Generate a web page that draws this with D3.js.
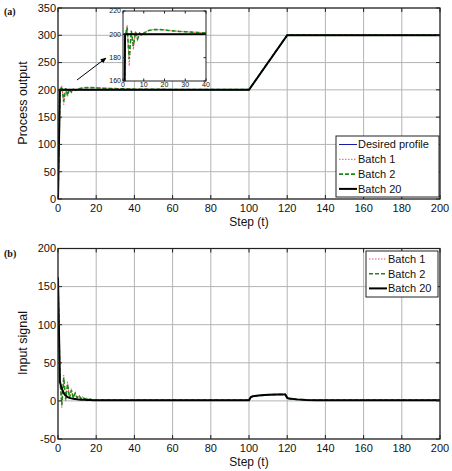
<!DOCTYPE html>
<html>
<head>
<meta charset="utf-8">
<script src="https://cdn.jsdelivr.net/npm/d3@7"></script>
<style>
  body { margin: 0; background: #fff; }
  text { font-family: "Liberation Sans", Arial, sans-serif; fill: #111; }
</style>
</head>
<body>
<script>
// ---- data (index of the early arrays = step t) ----
const desiredSteps = [0, 100, 120, 200];
const desiredOut = [200, 200, 300, 300];

const batch20Steps = [0, 1, 100, 120, 200];
const batch20Out = [0, 200, 200, 300, 300];

// process output, steps 0..40
const batch1OutEarly = [0, 196, 208, 173, 203, 187, 203, 195, 202, 199, 201, 202, 203, 203.5, 204, 204, 204, 204, 204, 204,
  203.8, 203.6, 203.4, 203.2, 203, 202.9, 202.7, 202.6, 202.4, 202.3, 202.2, 202.1, 202, 201.9, 201.8, 201.7, 201.6, 201.5, 201.5, 201.4, 201.3];
const batch2OutEarly = [0, 198, 206, 179, 203, 190, 202, 196, 201, 199, 201, 202, 203, 203.5, 203.8, 204, 204, 204, 204, 203.9,
  203.7, 203.5, 203.3, 203.1, 203, 202.8, 202.7, 202.5, 202.4, 202.3, 202.2, 202.1, 202, 201.9, 201.8, 201.7, 201.6, 201.5, 201.4, 201.3, 201.2];
const outLateSteps = [60, 100, 110, 120, 122, 140, 200];
const batch1OutLate = [200.8, 200.5, 250, 300, 301, 300.5, 300.2];
const batch2OutLate = [200.7, 200.4, 250.5, 300.5, 301, 300.4, 300.2];

// input signal, steps 0..20
const batch20InEarly = [162, 25, 16, 10, 7, 5, 4, 3.3, 2.8, 2.4, 2, 1.8, 1.6, 1.5, 1.4, 1.3, 1.2, 1.1, 1, 1, 1];
const batch1InEarly = [162, 35, -9, 34, 0, 25, 3, 16, 3, 11, 4, 8, 3, 5.5, 2.5, 3.5, 2, 2.5, 1.5, 1.8, 1.3];
const batch2InEarly = [162, 30, -5, 30, 2, 22, 4, 14, 4, 10, 4, 7, 3, 5, 2.5, 3, 2, 2.2, 1.5, 1.5, 1.2];
const inLateSteps = [40, 100, 101, 102, 105, 110, 115, 119, 120, 121, 125, 130, 135, 160, 200];
const batch20InLate = [1, 1, 5, 6, 7, 8, 8.5, 8.5, 4, 3, 2, 1.3, 1, 1, 1];
const batch1InLate = [1, 1, 5.5, 6, 7, 8, 8.5, 8.5, 4, 3, 2, 1.3, 1, 1, 1];
const batch2InLate = [1, 1, 5.2, 6, 7, 8, 8.5, 8.5, 4, 3, 2, 1.3, 1, 1, 1];

const xTicks = [0, 20, 40, 60, 80, 100, 120, 140, 160, 180, 200];
const outTicks = [0, 50, 100, 150, 200, 250, 300, 350];
const inTicks = [-50, 0, 50, 100, 150, 200];
const insetXTicks = [0, 10, 20, 30, 40];
const insetYTicks = [160, 180, 200, 220];

function pairs(steps, vals) { return steps.map(function (s, i) { return [s, vals[i]]; }); }
function early(vals) { return vals.map(function (v, i) { return [i, v]; }); }

const outSeries = [
  {name: "Desired profile", data: pairs(desiredSteps, desiredOut), color: "#1a1aa8", width: 1, dash: null},
  {name: "Batch 1", data: early(batch1OutEarly).concat(pairs(outLateSteps, batch1OutLate)), color: "#e8506a", width: 1, dash: "1.5,1.5"},
  {name: "Batch 2", data: early(batch2OutEarly).concat(pairs(outLateSteps, batch2OutLate)), color: "#1a8a1a", width: 1.6, dash: "4,2"},
  {name: "Batch 20", data: pairs(batch20Steps, batch20Out), color: "#000", width: 2, dash: null}
];
const inSeries = [
  {name: "Batch 1", data: early(batch1InEarly).concat(pairs(inLateSteps, batch1InLate)), color: "#e8506a", width: 1, dash: "1.5,1.5"},
  {name: "Batch 2", data: early(batch2InEarly).concat(pairs(inLateSteps, batch2InLate)), color: "#1a8a1a", width: 1.6, dash: "4,2"},
  {name: "Batch 20", data: early(batch20InEarly).concat(pairs(inLateSteps, batch20InLate)), color: "#000", width: 2, dash: null}
];

const width = 452, height = 471;
const svg = d3.select("body").append("svg")
  .attr("width", width).attr("height", height);

const defs = svg.append("defs");
defs.append("marker").attr("id", "arrow")
  .attr("viewBox", "0 0 10 10").attr("refX", 9).attr("refY", 5)
  .attr("markerWidth", 6).attr("markerHeight", 6).attr("orient", "auto")
  .append("path").attr("d", "M0,1 L10,5 L0,9 z").attr("fill", "#000");

function panel(id, box, xDomain, yDomain, xT, yT, series, opts) {
  const x = d3.scaleLinear().domain(xDomain).range([box.left, box.right]);
  const y = d3.scaleLinear().domain(yDomain).range([box.bottom, box.top]);
  const g = svg.append("g");
  const fs = opts.fontSize;
  const tick = opts.tick;

  g.append("rect").attr("x", box.left).attr("y", box.top)
    .attr("width", box.right - box.left).attr("height", box.bottom - box.top)
    .attr("fill", "#fff");

  defs.append("clipPath").attr("id", id)
    .append("rect").attr("x", box.left).attr("y", box.top)
    .attr("width", box.right - box.left).attr("height", box.bottom - box.top);

  if (opts.grid) {
    g.append("g").selectAll("line").data(xT).join("line")
      .attr("x1", function (d) { return x(d); }).attr("x2", function (d) { return x(d); })
      .attr("y1", box.top).attr("y2", box.bottom)
      .attr("stroke", "#b4b4b4").attr("stroke-width", 1);
    g.append("g").selectAll("line").data(yT).join("line")
      .attr("y1", function (d) { return y(d); }).attr("y2", function (d) { return y(d); })
      .attr("x1", box.left).attr("x2", box.right)
      .attr("stroke", "#b4b4b4").attr("stroke-width", 1);
  }

  const line = d3.line().x(function (d) { return x(d[0]); }).y(function (d) { return y(d[1]); });
  g.append("g").attr("clip-path", "url(#" + id + ")")
    .selectAll("path").data(series).join("path")
    .attr("d", function (d) { return line(d.data); })
    .attr("fill", "none")
    .attr("stroke", function (d) { return d.color; })
    .attr("stroke-width", function (d) { return d.width; })
    .attr("stroke-dasharray", function (d) { return d.dash; });

  // inward ticks on all four sides
  const tk = g.append("g").attr("stroke", "#222").attr("stroke-width", 1);
  xT.forEach(function (d) {
    tk.append("line").attr("x1", x(d)).attr("x2", x(d)).attr("y1", box.bottom).attr("y2", box.bottom - tick);
    tk.append("line").attr("x1", x(d)).attr("x2", x(d)).attr("y1", box.top).attr("y2", box.top + tick);
  });
  yT.forEach(function (d) {
    tk.append("line").attr("y1", y(d)).attr("y2", y(d)).attr("x1", box.left).attr("x2", box.left + tick);
    tk.append("line").attr("y1", y(d)).attr("y2", y(d)).attr("x1", box.right).attr("x2", box.right - tick);
  });

  g.append("rect").attr("x", box.left).attr("y", box.top)
    .attr("width", box.right - box.left).attr("height", box.bottom - box.top)
    .attr("fill", "none").attr("stroke", "#222").attr("stroke-width", opts.frame);

  g.append("g").selectAll("text").data(xT).join("text")
    .attr("x", function (d) { return x(d); }).attr("y", box.bottom + opts.xLabDy)
    .attr("text-anchor", "middle").style("font-size", fs + "px")
    .text(function (d) { return d; });
  g.append("g").selectAll("text").data(yT).join("text")
    .attr("x", box.left - 2).attr("y", function (d) { return y(d); })
    .attr("dy", "0.35em")
    .attr("text-anchor", "end").style("font-size", fs + "px")
    .text(function (d) { return d; });
  return {x: x, y: y};
}

function legend(series, lb) {
  const g = svg.append("g");
  g.append("rect").attr("x", lb.x).attr("y", lb.y).attr("width", lb.w).attr("height", lb.h)
    .attr("fill", "#fff").attr("stroke", "#222").attr("stroke-width", 1);
  series.forEach(function (s, i) {
    const cy = lb.y + lb.first + i * lb.step;
    g.append("line").attr("x1", lb.x + 3).attr("x2", lb.x + 21).attr("y1", cy).attr("y2", cy)
      .attr("stroke", s.color).attr("stroke-width", s.width).attr("stroke-dasharray", s.dash);
    g.append("text").attr("x", lb.x + 22).attr("y", cy).attr("dy", "0.36em")
      .style("font-size", "11px").text(s.name);
  });
}

// (a) process output
const boxA = {left: 58, right: 440, top: 8, bottom: 199};
panel("clipA", boxA, [0, 200], [0, 350], xTicks, outTicks, outSeries,
  {grid: true, fontSize: 11, tick: 4, frame: 1.2, xLabDy: 12.5});

// arrow pointing to the inset
svg.append("line").attr("x1", 77).attr("y1", 80).attr("x2", 106).attr("y2", 58)
  .attr("stroke", "#000").attr("stroke-width", 1).attr("marker-end", "url(#arrow)");

// inset: first 40 steps
panel("clipInset", {left: 123, right: 206, top: 11, bottom: 81}, [0, 40], [160, 220],
  insetXTicks, insetYTicks, outSeries,
  {grid: false, fontSize: 7, tick: 2.5, frame: 1, xLabDy: 6});

legend(outSeries, {x: 336, y: 136, w: 103, h: 61, first: 8.5, step: 14.8});

svg.append("text").attr("x", 249).attr("y", 225.5).attr("text-anchor", "middle")
  .style("font-size", "12px").text("Step (t)");
svg.append("text").attr("transform", "translate(27,103) rotate(-90)")
  .attr("text-anchor", "middle").style("font-size", "12.5px").text("Process output");
svg.append("text").attr("x", 4).attr("y", 15)
  .style("font-family", "'Liberation Serif', serif").style("font-weight", "bold").style("font-size", "10px")
  .text("(a)");

// (b) input signal
const boxB = {left: 58, right: 440, top: 248.5, bottom: 439};
panel("clipB", boxB, [0, 200], [-50, 200], xTicks, inTicks, inSeries,
  {grid: true, fontSize: 11, tick: 4, frame: 1.2, xLabDy: 12.5});

legend(inSeries, {x: 366, y: 251, w: 72, h: 46, first: 8, step: 14.7});

svg.append("text").attr("x", 249).attr("y", 465.5).attr("text-anchor", "middle")
  .style("font-size", "12px").text("Step (t)");
svg.append("text").attr("transform", "translate(27,343) rotate(-90)")
  .attr("text-anchor", "middle").style("font-size", "12.5px").text("Input signal");
svg.append("text").attr("x", 4).attr("y", 257)
  .style("font-family", "'Liberation Serif', serif").style("font-weight", "bold").style("font-size", "10px")
  .text("(b)");
</script>
</body>
</html>
